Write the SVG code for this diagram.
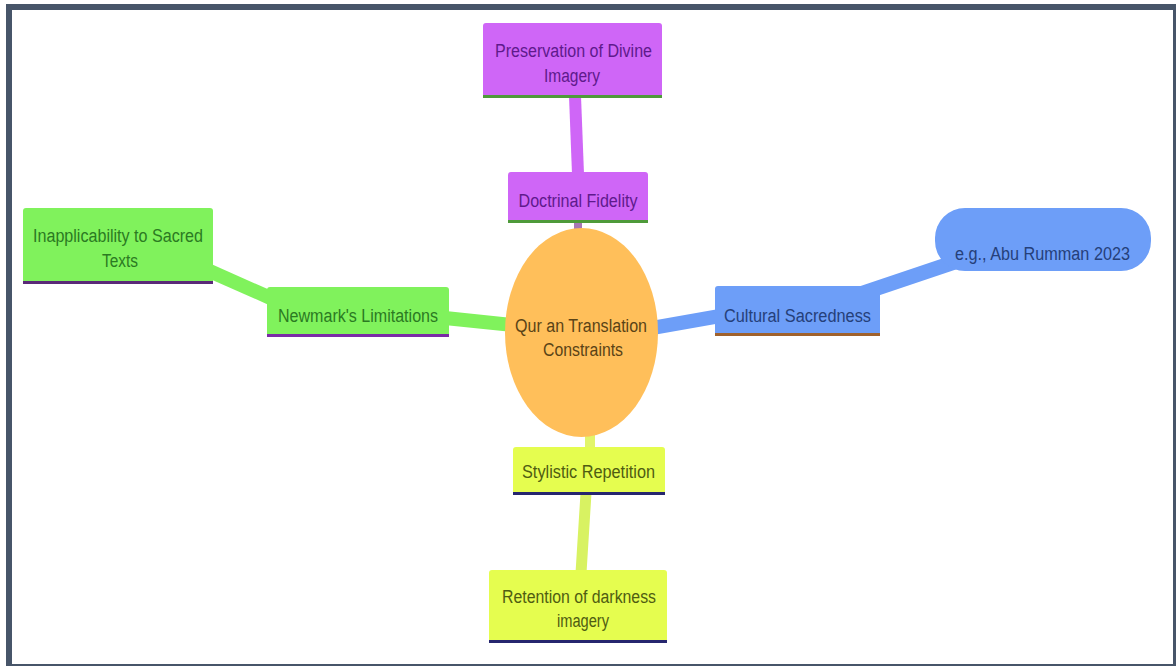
<svg xmlns="http://www.w3.org/2000/svg" width="1176" height="666" viewBox="0 0 1176 666">
<style>
text{font-family:"Liberation Sans Narrow","Liberation Sans",Arial,sans-serif;font-size:18px;text-anchor:middle;}
.conn line{stroke-linecap:butt;fill:none;}
.pur{fill:#cf66f7;}
.grn{fill:#80f25c;}
.blu{fill:#6d9ef8;}
.yel{fill:#e5fd4f;}
.tpur{fill:#5e1a8c;}
.tgrn{fill:#2b7a22;}
.tblu{fill:#25407a;}
.tyel{fill:#4f5c12;}
.tell{fill:#5a4316;}
</style>
<rect x="0" y="0" width="1176" height="666" fill="#ffffff"/>
<rect x="9" y="7" width="1167" height="660" fill="none" stroke="#475569" stroke-width="6"/>
<g id="connectors" class="conn">
<line x1="575" y1="96" x2="578" y2="174" stroke="#cf66f7" stroke-width="12"/>
<line x1="578" y1="221" x2="578" y2="232" stroke="#a877b4" stroke-width="8"/>
<line x1="512" y1="325" x2="445" y2="318" stroke="#80f25c" stroke-width="14"/>
<line x1="275" y1="300" x2="205" y2="269" stroke="#80f25c" stroke-width="14"/>
<line x1="652" y1="328" x2="720" y2="316" stroke="#6d9ef8" stroke-width="14"/>
<line x1="860" y1="294" x2="955" y2="262" stroke="#6d9ef8" stroke-width="15"/>
<line x1="590" y1="432" x2="590" y2="450" stroke="#e2f56a" stroke-width="10"/>
<line x1="586" y1="493" x2="581" y2="573" stroke="#d8f262" stroke-width="11"/>
</g>
<g id="node-preservation">
<rect class="pur" x="483" y="23" width="179" height="75" rx="3"/>
<rect x="483" y="95" width="179" height="3" fill="#4e9a3a"/>
<text class="tpur" x="573.5" y="57" textLength="157" lengthAdjust="spacingAndGlyphs">Preservation of Divine</text>
<text class="tpur" x="572" y="82" textLength="56" lengthAdjust="spacingAndGlyphs">Imagery</text>
</g>
<g id="node-doctrinal">
<rect class="pur" x="508" y="172" width="140" height="51" rx="3"/>
<rect x="508" y="220" width="140" height="3" fill="#4e9a3a"/>
<text class="tpur" x="578" y="207" textLength="119" lengthAdjust="spacingAndGlyphs">Doctrinal Fidelity</text>
</g>
<g id="node-center">
<ellipse cx="581.5" cy="332.5" rx="76.5" ry="104.5" fill="#ffbf5a"/>
<text class="tell" x="581" y="332" textLength="132" lengthAdjust="spacingAndGlyphs">Qur an Translation</text>
<text class="tell" x="583" y="356" textLength="80" lengthAdjust="spacingAndGlyphs">Constraints</text>
</g>
<g id="node-inapplicability">
<rect class="grn" x="23" y="208" width="190" height="76" rx="3"/>
<rect x="23" y="281" width="190" height="3" fill="#5a2a78"/>
<text class="tgrn" x="118" y="242" textLength="170" lengthAdjust="spacingAndGlyphs">Inapplicability to Sacred</text>
<text class="tgrn" x="120" y="267" textLength="36" lengthAdjust="spacingAndGlyphs">Texts</text>
</g>
<g id="node-newmark">
<rect class="grn" x="267" y="287" width="182" height="50" rx="3"/>
<rect x="267" y="334" width="182" height="3" fill="#7a2aa6"/>
<text class="tgrn" x="358" y="322" textLength="160" lengthAdjust="spacingAndGlyphs">Newmark's Limitations</text>
</g>
<g id="node-cultural">
<rect class="blu" x="715" y="286" width="165" height="50" rx="3"/>
<rect x="715" y="333" width="165" height="3" fill="#a0622d"/>
<text class="tblu" x="797.5" y="322" textLength="147" lengthAdjust="spacingAndGlyphs">Cultural Sacredness</text>
</g>
<g id="node-abu">
<rect class="blu" x="935" y="208" width="216" height="63" rx="30"/>
<text class="tblu" x="1042.5" y="260" textLength="175" lengthAdjust="spacingAndGlyphs">e.g., Abu Rumman 2023</text>
</g>
<g id="node-stylistic">
<rect class="yel" x="513" y="447" width="152" height="48" rx="3"/>
<rect x="513" y="492" width="152" height="3" fill="#26266e"/>
<text class="tyel" x="588.5" y="478" textLength="133" lengthAdjust="spacingAndGlyphs">Stylistic Repetition</text>
</g>
<g id="node-retention">
<rect class="yel" x="489" y="570" width="178" height="73" rx="3"/>
<rect x="489" y="640" width="178" height="3" fill="#26266e"/>
<text class="tyel" x="579" y="603" textLength="154" lengthAdjust="spacingAndGlyphs">Retention of darkness</text>
<text class="tyel" x="583" y="627" textLength="52" lengthAdjust="spacingAndGlyphs">imagery</text>
</g>
</svg>
